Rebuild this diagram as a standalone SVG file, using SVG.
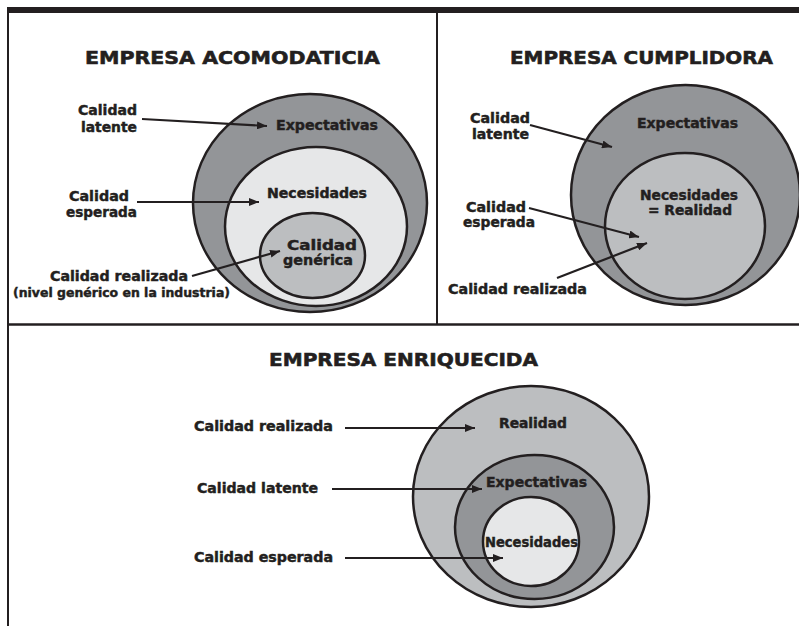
<svg xmlns="http://www.w3.org/2000/svg" width="799" height="626" viewBox="0 0 799 626">
<defs>
<marker id="ah" markerUnits="userSpaceOnUse" markerWidth="10" markerHeight="8" refX="10" refY="4" orient="auto">
<path d="M0,0 L10,4 L0,8 z" fill="#231f20"/>
</marker>
<style>
text{font-family:"DejaVu Sans","Liberation Sans",sans-serif;font-weight:bold;fill:#231f20;stroke:#231f20;stroke-width:0.45;}
.t{font-size:18.5px;stroke-width:0.6;}
.l{font-size:13.5px;}
.s{font-size:12.5px;}
.c{stroke:#231f20;stroke-width:2.5;}
.dark{fill:#939598;}
.mid{fill:#bcbec0;}
.light{fill:#e6e7e8;}
.a{stroke:#231f20;stroke-width:2.2;fill:none;marker-end:url(#ah);}
</style>
</defs>
<rect width="799" height="626" fill="#ffffff"/>
<g id="frame" fill="none" stroke="#231f20">
<rect x="7" y="7" width="792" height="6" fill="#231f20" stroke="none"/>
<line x1="8" y1="7" x2="8" y2="626" stroke-width="2"/>
<line x1="437" y1="13" x2="437" y2="324" stroke-width="2"/>
<line x1="8" y1="324.5" x2="799" y2="324.5" stroke-width="2.5"/>
</g>

<g id="acomodaticia">
<text class="t" x="85" y="64" textLength="295" lengthAdjust="spacingAndGlyphs">EMPRESA ACOMODATICIA</text>
<ellipse class="c dark" cx="310" cy="203" rx="117" ry="109"/>
<ellipse class="c light" cx="316" cy="226.5" rx="91" ry="79.5"/>
<ellipse class="c mid" cx="312.5" cy="255.5" rx="52.5" ry="42.5"/>
<text class="l" x="276" y="130" textLength="102" lengthAdjust="spacingAndGlyphs">Expectativas</text>
<text class="l" x="267" y="198" textLength="100" lengthAdjust="spacingAndGlyphs">Necesidades</text>
<text class="l" x="287" y="250" textLength="70" lengthAdjust="spacingAndGlyphs">Calidad</text>
<text class="l" x="283" y="265" textLength="70" lengthAdjust="spacingAndGlyphs">genérica</text>
<text class="l" x="78" y="115" textLength="59" lengthAdjust="spacingAndGlyphs">Calidad</text>
<text class="l" x="81" y="132" textLength="56" lengthAdjust="spacingAndGlyphs">latente</text>
<text class="l" x="69" y="201" textLength="60" lengthAdjust="spacingAndGlyphs">Calidad</text>
<text class="l" x="66" y="217" textLength="71" lengthAdjust="spacingAndGlyphs">esperada</text>
<text class="l" x="50" y="281" textLength="138" lengthAdjust="spacingAndGlyphs">Calidad realizada</text>
<text class="s" x="13" y="296.5" textLength="217" lengthAdjust="spacingAndGlyphs">(nivel genérico en la industria)</text>
</g>

<g id="cumplidora">
<text class="t" x="510" y="64" textLength="263" lengthAdjust="spacingAndGlyphs">EMPRESA CUMPLIDORA</text>
<ellipse class="c dark" cx="685.5" cy="195" rx="114.5" ry="110"/>
<ellipse class="c mid" cx="685" cy="226" rx="80" ry="73"/>
<text class="l" x="637" y="128" textLength="101" lengthAdjust="spacingAndGlyphs">Expectativas</text>
<text class="l" x="640" y="200" textLength="98" lengthAdjust="spacingAndGlyphs">Necesidades</text>
<text class="l" x="648" y="215" textLength="84" lengthAdjust="spacingAndGlyphs">= Realidad</text>
<text class="l" x="470" y="123" textLength="60" lengthAdjust="spacingAndGlyphs">Calidad</text>
<text class="l" x="472" y="139" textLength="57" lengthAdjust="spacingAndGlyphs">latente</text>
<text class="l" x="466" y="212" textLength="60" lengthAdjust="spacingAndGlyphs">Calidad</text>
<text class="l" x="463" y="227" textLength="72" lengthAdjust="spacingAndGlyphs">esperada</text>
<text class="l" x="448" y="294" textLength="139" lengthAdjust="spacingAndGlyphs">Calidad realizada</text>
</g>

<g id="enriquecida">
<text class="t" x="269" y="366" textLength="269" lengthAdjust="spacingAndGlyphs">EMPRESA ENRIQUECIDA</text>
<ellipse class="c mid" cx="531" cy="496.5" rx="118" ry="110.5"/>
<ellipse class="c dark" cx="534.5" cy="527" rx="79.5" ry="72"/>
<ellipse class="c light" cx="531" cy="541.5" rx="48" ry="44.5"/>
<text class="l" x="499" y="428" textLength="68" lengthAdjust="spacingAndGlyphs">Realidad</text>
<text class="l" x="486" y="487" textLength="101" lengthAdjust="spacingAndGlyphs">Expectativas</text>
<text class="l" x="485" y="547" textLength="93" lengthAdjust="spacingAndGlyphs">Necesidades</text>
<text class="l" x="194" y="431" textLength="139" lengthAdjust="spacingAndGlyphs">Calidad realizada</text>
<text class="l" x="197" y="493" textLength="121" lengthAdjust="spacingAndGlyphs">Calidad latente</text>
<text class="l" x="194" y="562" textLength="139" lengthAdjust="spacingAndGlyphs">Calidad esperada</text>
</g>

<g id="connectors">
<line class="a" x1="142" y1="119" x2="267" y2="126"/>
<line class="a" x1="137" y1="202" x2="259" y2="202"/>
<line class="a" x1="192" y1="276" x2="280" y2="251"/>
<line class="a" x1="530" y1="125" x2="612" y2="147"/>
<line class="a" x1="529" y1="208" x2="639" y2="237"/>
<line class="a" x1="557" y1="278" x2="647" y2="243"/>
<line class="a" x1="345" y1="428" x2="475" y2="428"/>
<line class="a" x1="332" y1="489" x2="482" y2="489"/>
<line class="a" x1="345" y1="558" x2="503" y2="558"/>
</g>
</svg>
